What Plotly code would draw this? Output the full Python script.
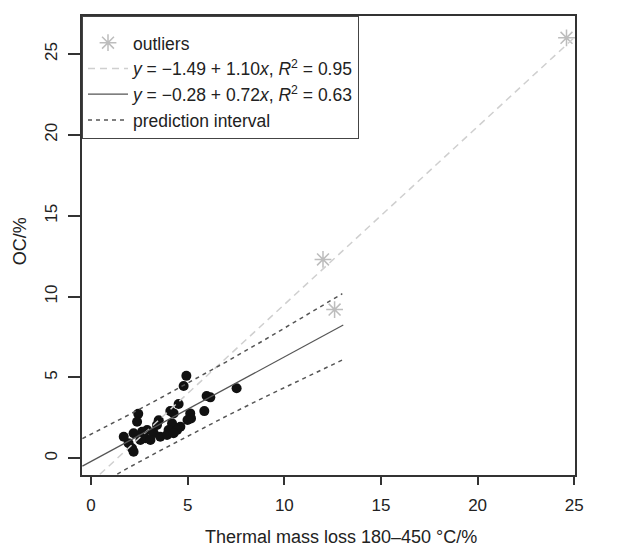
import plotly.graph_objects as go

# ---- data ----
pts_x = [4.93, 4.79, 5.98, 6.17, 7.53, 5.86, 4.53, 4.10, 4.27, 5.13, 5.17, 4.99,
         2.44, 2.38, 3.50, 3.41, 4.19, 4.01, 4.62, 2.90, 2.64, 3.24, 2.20, 1.69,
         1.94, 2.12, 2.20, 2.55, 2.81, 3.07, 3.58, 3.93, 4.45, 4.27]
pts_y = [5.10, 4.47, 3.85, 3.77, 4.33, 2.92, 3.36, 2.92, 2.78, 2.78, 2.47, 2.37,
         2.75, 2.26, 2.35, 2.06, 2.16, 1.75, 1.95, 1.75, 1.64, 1.56, 1.55, 1.34,
         0.93, 0.62, 0.41, 1.13, 1.24, 1.13, 1.34, 1.44, 1.75, 1.55]

out_x = [12.0, 12.6, 24.6]
out_y = [12.3, 9.2, 26.0]

all_fit_x = [0.0, 25.0]
all_fit_y = [-1.49, 26.01]

fit_x = [-0.45, 13.05]
fit_y = [-0.48, 8.24]

pi_x = [-0.45, 1, 2, 3.5, 5, 7, 9, 11, 13]
pi_upper = [1.22, 2.10, 2.72, 3.67, 4.64, 5.97, 7.34, 8.75, 10.18]
pi_lower = [-2.18, -1.20, -0.54, 0.43, 1.38, 2.61, 3.80, 4.95, 6.08]

x_ticks = [0, 5, 10, 15, 20, 25]
y_ticks = [0, 5, 10, 15, 20, 25]

legend_labels = [
    "outliers",
    "<i>y</i> = \u22121.49 + 1.10<i>x</i>, <i>R</i><sup>2</sup> = 0.95",
    "<i>y</i> = \u22120.28 + 0.72<i>x</i>, <i>R</i><sup>2</sup> = 0.63",
    "prediction interval",
]

FONT = "Liberation Sans, Arial, Helvetica, sans-serif"
TXT = "#222222"

fig = go.Figure()

fig.add_trace(go.Scatter(
    x=pts_x, y=pts_y, mode="markers", showlegend=False,
    marker=dict(color="#111111", size=10, line=dict(width=0)),
))
fig.add_trace(go.Scatter(
    x=out_x, y=out_y, mode="markers", name=legend_labels[0],
    marker=dict(symbol="asterisk-open", size=14, color="#bdbdbd",
                line=dict(color="#bdbdbd", width=1.5)),
))
fig.add_trace(go.Scatter(
    x=all_fit_x, y=all_fit_y, mode="lines", name=legend_labels[1],
    line=dict(color="#cfcfcf", width=1.5, dash="7px,5px"),
))
fig.add_trace(go.Scatter(
    x=fit_x, y=fit_y, mode="lines", name=legend_labels[2],
    line=dict(color="#555555", width=1.2),
))
fig.add_trace(go.Scatter(
    x=pi_x, y=pi_upper, mode="lines", name=legend_labels[3],
    line=dict(color="#555555", width=1.5, dash="4px,4px"),
))
fig.add_trace(go.Scatter(
    x=pi_x, y=pi_lower, mode="lines", showlegend=False,
    line=dict(color="#555555", width=1.5, dash="4px,4px"),
))

axis_common = dict(
    showgrid=False, zeroline=False, showline=True, mirror=True,
    linecolor="#333333", linewidth=1.5, ticks="outside", tickcolor="#333333",
    tickwidth=1.5, tickfont=dict(family=FONT, size=17, color=TXT),
)

fig.update_layout(
    width=627, height=548,
    margin=dict(l=82, r=52, t=16, b=73),
    paper_bgcolor="white", plot_bgcolor="white",
    font=dict(family=FONT, size=17, color=TXT),
    xaxis=dict(range=[-0.47, 25.04], tickvals=x_ticks, ticklen=8,
               ticklabelstandoff=6, **axis_common),
    yaxis=dict(range=[-1.03, 27.35], tickvals=y_ticks, ticklen=12,
               tickangle=-90, ticklabelstandoff=4, **axis_common),
    legend=dict(x=0, y=1, xanchor="left", yanchor="top",
                bgcolor="white", bordercolor="#444444", borderwidth=1,
                font=dict(family=FONT, size=17.5, color=TXT),
                title=dict(text=" ", font=dict(size=6)),
                tracegroupgap=0, itemwidth=40,
                entrywidth=225, entrywidthmode="pixels"),
    annotations=[
        dict(text="Thermal mass loss 180\u2013450 \u00b0C/%", xref="paper", yref="paper",
             x=0.525, y=-0.135, xanchor="center", yanchor="middle", showarrow=False,
             font=dict(family=FONT, size=18, color=TXT)),
        dict(text="OC/%", xref="paper", yref="paper", x=-0.125, y=0.51,
             xanchor="center", yanchor="middle", textangle=-90, showarrow=False,
             font=dict(family=FONT, size=18, color=TXT)),
    ],
)

fig.write_html("out.html", config={"displayModeBar": False},
               post_script="document.body.style.margin='0px';document.body.style.padding='0px';")
